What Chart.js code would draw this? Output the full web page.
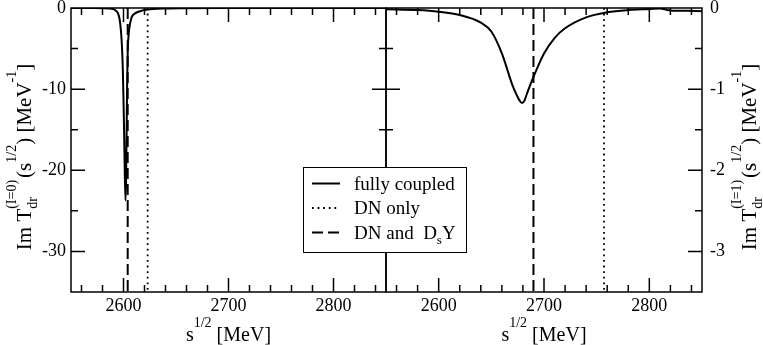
<!DOCTYPE html>
<html>
<head>
<meta charset="utf-8">
<script src="https://cdn.jsdelivr.net/npm/chart.js@4.4.0/dist/chart.umd.min.js"></script>
<style>
  body { margin: 0; background: #fff; }
  #wrap { position: relative; width: 763px; height: 345px; }
  #wrap canvas { position: absolute; left: 0; top: 0; }
</style>
</head>
<body>
<div id="wrap">
  <canvas id="c0" width="763" height="345"></canvas>
  <canvas id="c1" width="763" height="345"></canvas>
</div>
<script>
// valeurs
const xRange = [2550, 2850];
const xTicks = [2600, 2700, 2800];
const yTicks0 = [0, -10, -20, -30];
const yTicks1 = [0, -1, -2, -3];
const yMin0 = -35, yMin1 = -3.5;

// I=0, couplage complet
const xI0 = [2550, 2570, 2580, 2586, 2590, 2592.5, 2594.6, 2596, 2596.8, 2597.8, 2598.7, 2599.4, 2600, 2600.6, 2601.2, 2601.9,
  2602.4, 2603, 2603.5, 2604, 2605, 2606.3, 2608, 2610.5, 2613.6, 2616.5, 2620, 2628, 2640, 2660, 2700, 2760, 2850];
const yI0 = [0, -0.01, -0.02, -0.05, -0.12, -0.3, -0.62, -1.2, -1.85, -3.2, -5.2, -7.8, -11.3, -15.5, -20, -23.7,
  -21.5, -15, -9, -5.5, -3.1, -1.9, -1.07, -0.7, -0.49, -0.36, -0.25, -0.12, -0.06, -0.03, -0.01, 0, 0];

// I=1, couplage complet
const xI1 = [2550, 2580, 2600, 2620, 2640, 2650, 2660, 2670, 2674, 2677, 2679.2, 2681.5, 2684, 2690, 2700, 2710, 2720, 2740, 2760, 2780, 2800, 2810, 2820, 2835, 2850];
const yI1 = [-0.015, -0.025, -0.045, -0.086, -0.18, -0.29, -0.56, -0.95, -1.07, -1.145, -1.17, -1.14, -1.05, -0.85, -0.56, -0.37, -0.25, -0.115, -0.053, -0.025, -0.012, -0.005, -0.03, -0.035, -0.04];

// pics etroits (DN seul / DN et DsY)
const dotPos0 = 2623, dashPos0 = 2604;
const dotPos1 = 2757, dashPos1 = 2690;

const seriesNames = ['fully coupled', 'DN only', 'DN and  D_{s}Y'];

const FONT = '"Liberation Serif", "Times New Roman", serif';
Chart.defaults.font.family = FONT;
Chart.defaults.font.size = 18;
Chart.defaults.color = '#000';

function parseRich(str) {
  const segs = [];
  let i = 0, buf = '';
  while (i < str.length) {
    const c = str[i];
    if ((c === '_' || c === '^') && str[i + 1] === '{') {
      if (buf) { segs.push({ t: buf, k: 0 }); buf = ''; }
      const end = str.indexOf('}', i);
      segs.push({ t: str.slice(i + 2, end), k: c === '_' ? 1 : -1 });
      i = end + 1;
    } else { buf += c; i++; }
  }
  if (buf) segs.push({ t: buf, k: 0 });
  return segs;
}

// texte avec indices / exposants
function drawRich(ctx, str, x, y, size, align) {
  const segs = parseRich(str);
  const small = Math.round(size * 0.68);
  const items = [];
  let w = 0;
  for (let j = 0; j < segs.length; j++) {
    const s = segs[j];
    const fs = s.k ? small : size;
    ctx.font = fs + 'px ' + FONT;
    const sw = ctx.measureText(s.t).width;
    items.push({ t: s.t, k: s.k, fs: fs, x: w });
    const nxt = segs[j + 1];
    if (s.k && nxt && nxt.k && nxt.k !== s.k) {
      ctx.font = small + 'px ' + FONT;
      const nw = ctx.measureText(nxt.t).width;
      items.push({ t: nxt.t, k: nxt.k, fs: small, x: w });
      w += Math.max(sw, nw) + 2;
      j++;
    } else {
      w += sw;
    }
  }
  const x0 = align === 'center' ? x - w / 2 : x;
  ctx.textAlign = 'left';
  ctx.textBaseline = 'alphabetic';
  items.forEach(it => {
    ctx.font = it.fs + 'px ' + FONT;
    const dy = it.k === 1 ? size * 0.27 : it.k === -1 ? -size * 0.72 : 0;
    ctx.fillText(it.t, x0 + it.x, y + dy);
  });
}

// cadre + graduations vers l'interieur
const framePlugin = {
  id: 'frame',
  afterDatasetsDraw(chart, args, opts) {
    const { ctx, chartArea: a } = chart;
    const xs = chart.scales.x, ys = chart.scales.y;
    ctx.save();
    ctx.strokeStyle = '#000';
    ctx.lineWidth = 1.5;
    ctx.strokeRect(a.left, a.top, a.right - a.left, a.bottom - a.top);
    ctx.beginPath();
    const tx = (v, len) => {
      const p = xs.getPixelForValue(v);
      ctx.moveTo(p, a.bottom); ctx.lineTo(p, a.bottom - len);
      ctx.moveTo(p, a.top); ctx.lineTo(p, a.top + len);
    };
    const ty = (v, len) => {
      const p = ys.getPixelForValue(v);
      ctx.moveTo(a.left, p); ctx.lineTo(a.left + len, p);
      ctx.moveTo(a.right, p); ctx.lineTo(a.right - len, p);
    };
    for (let v = Math.ceil(xs.min / opts.xMinor) * opts.xMinor; v < xs.max; v += opts.xMinor) {
      if (v > xs.min) tx(v, xTicks.includes(v) ? 14 : 7);
    }
    for (let v = ys.max - opts.yMinor; v > ys.min + 1e-9; v -= opts.yMinor) {
      const r = Math.round(v * 100) / 100;
      ty(r, opts.yMajor.includes(r) ? 14 : 7);
    }
    ctx.stroke();
    ctx.restore();
  },
  afterDraw(chart, args, opts) {
    const ctx = chart.ctx, a = chart.chartArea;
    ctx.save();
    ctx.fillStyle = '#000';
    drawRich(ctx, 's^{1/2} [MeV]', (a.left + a.right) / 2, 341, 20, 'center');
    ctx.translate(opts.titleX, 157);
    ctx.rotate(-Math.PI / 2);
    drawRich(ctx, opts.yTitle, 0, 0, 21, 'center');
    ctx.restore();
    if (opts.legend) drawLegend(chart);
  }
};

function drawLegend(chart) {
  const ctx = chart.ctx;
  const box = { l: 303.5, t: 167.5, r: 466.5, b: 252.5 };
  ctx.save();
  ctx.fillStyle = '#fff';
  ctx.fillRect(box.l, box.t, box.r - box.l, box.b - box.t);
  ctx.strokeStyle = '#000';
  ctx.lineWidth = 1;
  ctx.strokeRect(box.l, box.t, box.r - box.l, box.b - box.t);
  const rows = [183.5, 208, 232.5];
  chart.data.datasets.slice(0, 3).forEach((ds, i) => {
    ctx.beginPath();
    ctx.lineWidth = ds.borderWidth;
    ctx.setLineDash(ds.borderDash || []);
    ctx.moveTo(312, rows[i]);
    ctx.lineTo(340, rows[i]);
    ctx.stroke();
    ctx.setLineDash([]);
    ctx.fillStyle = '#000';
    drawRich(ctx, seriesNames[i], 354, rows[i] + 6, 19, 'left');
  });
  ctx.restore();
}

function lineSet(xv, yv, style) {
  return Object.assign({
    data: xv.map((x, i) => ({ x: x, y: yv[i] })),
    borderColor: '#000',
    pointRadius: 0,
    fill: false
  }, style);
}
const solidStyle = { borderWidth: 2, borderDash: [], cubicInterpolationMode: 'monotone' };
const dotStyle = { borderWidth: 1.8, borderDash: [1.8, 3.8] };
const dashStyle = { borderWidth: 2, borderDash: [11, 5] };

function zeroFit(s) {
  s.paddingLeft = 0; s.paddingRight = 0; s.paddingTop = 0; s.paddingBottom = 0;
}

const tickFont = { family: FONT, size: 18 };

function makePanel(id, xv, yv, dotX, dashX, yMin, yTicks, yStep, isRight) {
  return new Chart(document.getElementById(id), {
    type: 'line',
    data: {
      datasets: [
        lineSet(xv, yv, solidStyle),
        lineSet([dotX, dotX], [0, yMin], dotStyle),
        lineSet([dashX, dashX], [0, yMin], dashStyle)
      ]
    },
    options: {
      responsive: false,
      devicePixelRatio: 1,
      animation: false,
      layout: { padding: isRight ? { left: 386, right: 0, top: 8, bottom: 0 } : { left: 0, right: 377, top: 8, bottom: 0 } },
      plugins: {
        legend: { display: false },
        tooltip: { enabled: false },
        frame: {
          xMinor: 20, yMinor: yStep, yMajor: yTicks,
          titleX: isRight ? 756 : 31,
          yTitle: isRight ? 'Im T_{dr}^{(I=1)}(s^{1/2}) [MeV^{-1}]' : 'Im T_{dr}^{(I=0)}(s^{1/2}) [MeV^{-1}]',
          legend: isRight
        }
      },
      scales: {
        x: {
          type: 'linear', min: xRange[0], max: xRange[1],
          grid: { display: false, drawTicks: false },
          border: { display: false },
          ticks: { padding: 3, maxRotation: 0, font: tickFont, color: '#000', callback: v => String(v) },
          afterBuildTicks: s => { s.ticks = xTicks.map(v => ({ value: v })); },
          afterFit: s => { zeroFit(s); s.height = 53; }
        },
        y: {
          type: 'linear', min: yMin, max: 0,
          position: isRight ? 'right' : 'left',
          grid: { display: false, drawTicks: false },
          border: { display: false },
          ticks: { padding: isRight ? 8 : 5, font: tickFont, color: '#000', callback: v => String(v) },
          afterBuildTicks: s => { s.ticks = yTicks.map(v => ({ value: v })); },
          afterFit: s => { zeroFit(s); s.width = isRight ? 61 : 71; }
        }
      }
    },
    plugins: [framePlugin]
  });
}

makePanel('c0', xI0, yI0, dotPos0, dashPos0, yMin0, yTicks0, 5, false);
makePanel('c1', xI1, yI1, dotPos1, dashPos1, yMin1, yTicks1, 0.5, true);
</script>
</body>
</html>
